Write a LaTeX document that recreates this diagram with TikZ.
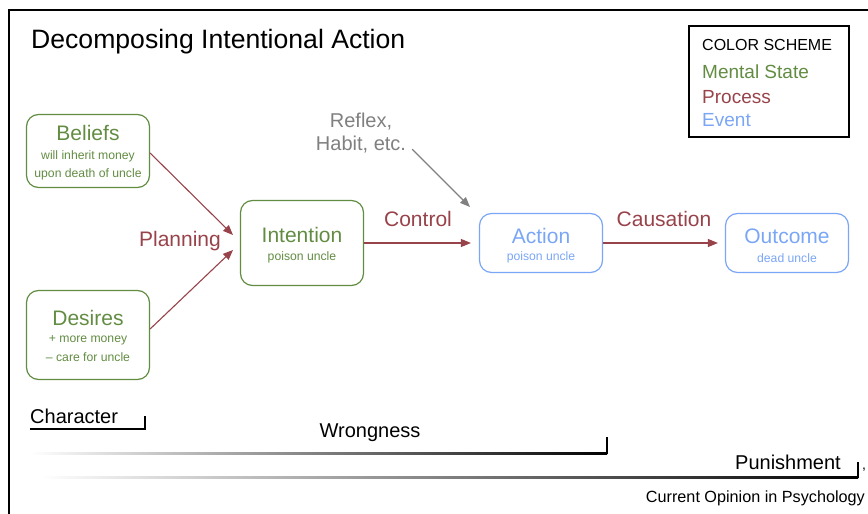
\documentclass[tikz,border=0pt]{standalone}
\usepackage{fontspec}
\setmainfont{Liberation Sans}
\usepackage{tikz}
\usetikzlibrary{shapes,arrows.meta,positioning}
\usepackage{color}

\definecolor{mentalgreen}{RGB}{98,140,66}
\definecolor{processred}{RGB}{152,66,74}
\definecolor{eventblue}{RGB}{122,166,245}
\definecolor{reflexgray}{RGB}{128,128,128}

\newcommand{\fsz}[1]{\fontsize{#1}{1.15\dimexpr#1pt\relax}\selectfont}

\begin{document}
\begin{tikzpicture}[x=1pt,y=-1pt,
	box/.style={draw,rounded corners=12pt,line width=1.2pt,minimum width=123pt,inner sep=0pt},
	mental/.style={box,draw=mentalgreen},
	event/.style={box,draw=eventblue},
	head/.style={inner sep=0pt,font=\fsz{21}},
	sub/.style={inner sep=0pt,font=\fsz{12.2}},
	flow/.style={-{Triangle[length=10pt,width=8pt]},line width=1.1pt,draw=processred},
	scale line/.style={line width=1.6pt}]
	\useasboundingbox (0,0) rectangle (868,514);
	% the frame, cut off at the right and the bottom
	\draw[line width=1.3pt] (9,514) -- (9,10) -- (868,10);
	\node[anchor=west,inner sep=0pt,font=\fsz{26.6}] (title) at (31,42) {Decomposing Intentional Action};

	%% the legend
	\draw[line width=1.2pt] (689,26) rectangle (849,137);
	\node[anchor=west,inner sep=0pt,font=\fsz{16}] (scheme) at (702,45) {COLOR SCHEME};
	\node[anchor=west,inner sep=0pt,font=\fsz{19},text=mentalgreen] (legmental) at (702,72) {Mental State};
	\node[anchor=west,inner sep=0pt,font=\fsz{19},text=processred] (legprocess) at (702,97) {Process};
	\node[anchor=west,inner sep=0pt,font=\fsz{19},text=eventblue] (legevent) at (702,120) {Event};

	%% the boxes
	\node[mental,minimum height=73pt] (beliefs) at (88,151) {};
	\node[head,text=mentalgreen] at (88,133) {Beliefs};
	\node[sub,text=mentalgreen] at (88,156) {will inherit money};
	\node[sub,text=mentalgreen] at (88,174) {upon death of uncle};

	\node[mental,minimum height=89pt] (desires) at (88,335) {};
	\node[head,text=mentalgreen] at (88,318) {Desires};
	\node[sub,text=mentalgreen] at (88,340) {+ more money};
	\node[sub,text=mentalgreen] at (88,357) {– care for uncle};

	\node[mental,minimum height=85pt] (intention) at (302,243) {};
	\node[head,text=mentalgreen] at (302,235) {Intention};
	\node[sub,text=mentalgreen] at (302,257) {poison uncle};

	\node[event,minimum height=59pt] (action) at (541,243) {};
	\node[head,text=eventblue] at (541,236) {Action};
	\node[sub,text=eventblue] at (541,257) {poison uncle};

	\node[event,minimum height=59pt] (outcome) at (787,243) {};
	\node[head,text=eventblue] at (787,236) {Outcome};
	\node[sub,text=eventblue] at (787,258) {dead uncle};

	%% the processes
	\coordinate (planbel) at (233,235);
	\coordinate (plandes) at (233,250);
	\draw[flow] ([yshift=-2pt]beliefs.east) -- (planbel);
	\draw[flow] ([yshift=6pt]desires.east) -- (plandes);
	\node[head,text=processred] (planning) at (180,241) {Planning};

	\draw[flow,shorten >=8pt] (intention.east) -- (action.west);
	\node[head,text=processred] (control) at (418,219) {Control};
	\draw[flow,shorten >=7pt] (action.east) -- (outcome.west);
	\node[head,text=processred] (causation) at (664,219) {Causation};

	% reflexes skip the intention
	\node[inner sep=0pt,font=\fsz{20},text=reflexgray,align=center] (reflex) at (361,133) {Reflex,\\Habit, etc.};
	\coordinate (reflexend) at (470,207);
	\draw[-{Triangle[length=10pt,width=8pt]},line width=1.1pt,draw=reflexgray] ([xshift=6pt,yshift=4pt]reflex.south east) -- (reflexend);

	%% the scales at the bottom
	\node[anchor=west,inner sep=0pt,font=\fsz{20}] (character) at (30,416) {Character};
	\draw[line width=1.1pt] (30,429) -- (145,429) -- (145,416);

	\node[inner sep=0pt,font=\fsz{20}] (wrongness) at (370,433) {Wrongness};
	\shade[left color=white,right color=black] (30,452) rectangle (607,454.5);
	\draw[scale line] (607,453.5) -- (607,437);

	\node[anchor=east,inner sep=0pt,font=\fsz{20}] (punishment) at (841,462) {Punishment};
	\shade[left color=white,right color=black] (40,476) rectangle (858,478.5);
	\draw[scale line] (858,477.5) -- (858,462);
	\node[inner sep=0pt,font=\fsz{14}] (comma) at (864,470) {,};

	\node[anchor=east,inner sep=0pt,font=\fsz{16.2}] (source) at (865,498) {Current Opinion in Psychology};
\end{tikzpicture}
\end{document}
